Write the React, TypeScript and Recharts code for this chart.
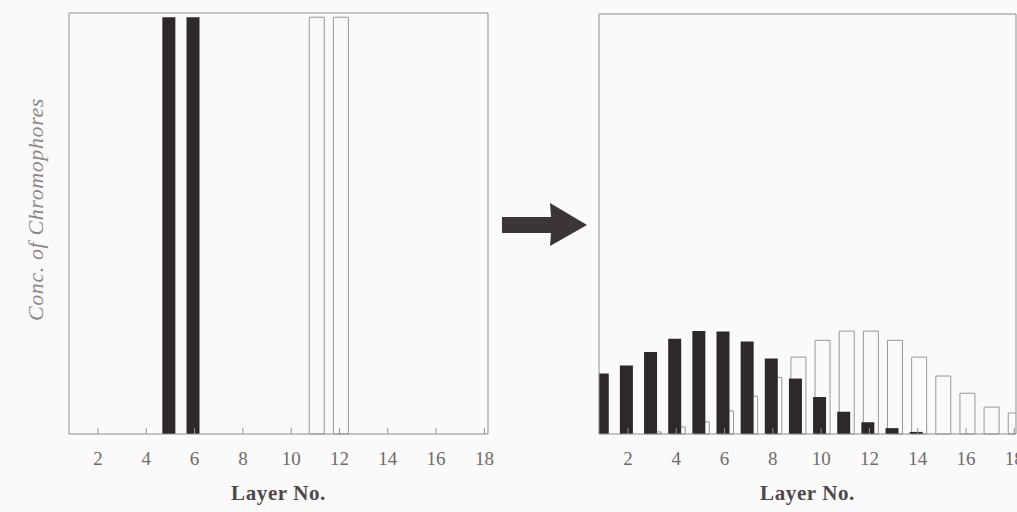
import { Bar, BarChart, XAxis, YAxis } from "recharts";

const FONT = '"Liberation Serif", "DejaVu Serif", serif';
const PAPER = "#fbfafa";
const INK = "#2d2829";
const FRAME = "#8e8e8e";

const layers = [1, 2, 3, 4, 5, 6, 7, 8, 9, 10, 11, 12, 13, 14, 15, 16, 17, 18];
const layerTicks = [2, 4, 6, 8, 10, 12, 14, 16, 18];

// before: two sharp bands of each chromophore
const beforeDark = [0, 0, 0, 0, 99, 99, 0, 0, 0, 0, 0, 0, 0, 0, 0, 0, 0, 0];
const beforeLight = [0, 0, 0, 0, 0, 0, 0, 0, 0, 0, 99, 99, 0, 0, 0, 0, 0, 0];

// after: spread out over the layers
const afterDark = [14.4, 16.3, 19.5, 22.7, 24.5, 24.4, 22.0, 18.0, 13.2, 8.8, 5.3, 2.8, 1.4, 0.5, 0, 0, 0, 0];
const afterLight = [0, 0, 0.5, 1.7, 2.9, 5.5, 9.0, 13.5, 18.3, 22.3, 24.5, 24.5, 22.3, 18.3, 13.8, 9.7, 6.4, 5.0];

function YTitle({ viewBox }: any) {
  if (!viewBox) return null;
  const cx = viewBox.x + viewBox.width / 2;
  const cy = viewBox.y + viewBox.height / 2 - 14;
  return (
    <text
      x={cx}
      y={cy}
      transform={`rotate(-90 ${cx} ${cy})`}
      textAnchor="middle"
      dominantBaseline="central"
      fill="#8a8686"
      fontSize={22}
      letterSpacing={0.6}
      fontStyle="italic"
      fontFamily={FONT}
    >
      Conc. of Chromophores
    </text>
  );
}

function Panel({
  dark,
  light,
  top,
  right,
  xMax,
  showYTitle,
}: {
  dark: number[];
  light: number[];
  top: number;
  right: number;
  xMax: number;
  showYTitle?: boolean;
}) {
  const data = layers.map((layer, i) => ({ layer, dark: dark[i], light: light[i] }));
  const domain: [number, number] = [0.8, xMax];

  return (
    <BarChart
      width={500}
      height={512}
      data={data}
      margin={{ top, right, bottom: 12, left: 1 }}
      barGap={-11}
    >
      <XAxis
        xAxisId="main"
        dataKey="layer"
        type="number"
        domain={domain}
        allowDataOverflow
        ticks={layerTicks}
        interval={0}
        height={66}
        tickSize={-6}
        tickMargin={24}
        tick={{ fill: "#6e6b6b", fontSize: 19, fontFamily: FONT }}
        tickLine={{ stroke: FRAME }}
        axisLine={{ stroke: FRAME }}
        label={{
          value: "Layer No.",
          position: "insideBottom",
          offset: 0,
          fill: "#4d4949",
          fontSize: 21,
          fontWeight: 700,
          letterSpacing: 0.6,
          fontFamily: FONT,
        }}
      />
      <XAxis
        xAxisId="front"
        dataKey="layer"
        type="number"
        orientation="top"
        domain={domain}
        allowDataOverflow
        height={1}
        tick={false}
        tickLine={false}
        axisLine={{ stroke: FRAME }}
      />
      <YAxis
        domain={[0, 100]}
        width={68}
        tick={false}
        tickLine={false}
        axisLine={{ stroke: FRAME }}
        label={showYTitle ? <YTitle /> : undefined}
      />
      <YAxis
        yAxisId="edge"
        orientation="right"
        domain={[0, 100]}
        width={1}
        tick={false}
        tickLine={false}
        axisLine={{ stroke: FRAME }}
      />
      {/* open bars sit behind the filled ones */}
      <Bar xAxisId="main" dataKey="dark" barSize={13} fill="transparent" isAnimationActive={false} />
      <Bar xAxisId="main" dataKey="light" barSize={15} fill={PAPER} stroke="#9a9797" strokeWidth={1} isAnimationActive={false} />
      <Bar xAxisId="front" dataKey="dark" barSize={13} fill={INK} isAnimationActive={false} />
      <Bar xAxisId="front" dataKey="light" barSize={15} fill="transparent" isAnimationActive={false} />
    </BarChart>
  );
}

export default function App() {
  return (
    <div
      style={{
        position: "absolute",
        left: 0,
        top: 0,
        width: 1017,
        height: 512,
        overflow: "hidden",
        background: PAPER,
      }}
    >
      <div style={{ position: "absolute", left: 0, top: 0 }}>
        <Panel dark={beforeDark} light={beforeLight} top={12} right={11} xMax={18.15} showYTitle />
      </div>
      <svg
        width={100}
        height={60}
        style={{ position: "absolute", left: 495, top: 196 }}
      >
        <polygon
          points="7,21 56,21 55,7 92,29 55,50 56,37 7,37"
          fill="#3a3536"
        />
      </svg>
      <div style={{ position: "absolute", left: 530, top: 0 }}>
        <Panel dark={afterDark} light={afterLight} top={13} right={13} xMax={18.07} />
      </div>
    </div>
  );
}
